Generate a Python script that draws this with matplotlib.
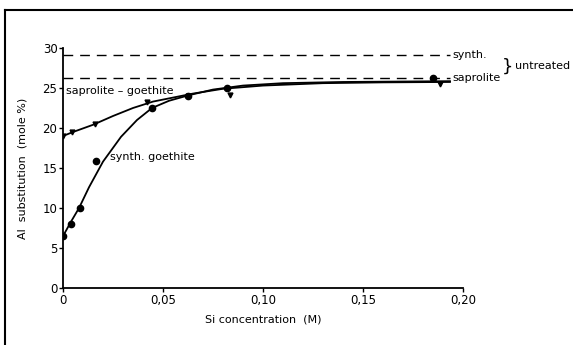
import numpy as np
import matplotlib.pyplot as plt

# measured points
sap_x = [0, 0.0045, 0.016, 0.042, 0.0625, 0.0835, 0.1885]
sap_y = [19.0, 19.5, 20.5, 23.3, 24.0, 24.1, 25.5]
syn_x = [0, 0.004, 0.0085, 0.0165, 0.0445, 0.0625, 0.082, 0.185]
syn_y = [6.5, 8.0, 10.0, 15.9, 22.5, 24.0, 25.0, 26.2]

# hand-drawn curves
sap_cx = [0, 0.005, 0.015, 0.025, 0.035, 0.045, 0.055, 0.065, 0.08, 0.10, 0.13, 0.16, 0.1935]
sap_cy = [19.0, 19.5, 20.4, 21.5, 22.5, 23.3, 23.8, 24.3, 24.9, 25.3, 25.6, 25.7, 25.75]
syn_cx = [0, 0.004, 0.008, 0.013, 0.02, 0.029, 0.037, 0.0445, 0.053, 0.063, 0.075, 0.09, 0.11, 0.14, 0.1935]
syn_cy = [6.5, 8.3, 10.0, 12.6, 15.8, 18.9, 21.0, 22.5, 23.4, 24.1, 24.8, 25.3, 25.6, 25.75, 25.85]

# untreated levels
untreated_synth = 29.1
untreated_sap = 26.25

xticks = [0, 0.05, 0.10, 0.15, 0.20]
xtick_labels = ["0", "0,05", "0,10", "0,15", "0,20"]
yticks = [0, 5, 10, 15, 20, 25, 30]

plt.rcParams['font.family'] = 'DejaVu Sans'
fs = 8
fig = plt.figure(figsize=(5.73, 3.45), dpi=100)
ax = fig.add_axes([0.110, 0.165, 0.698, 0.696])

ax.plot(sap_cx, sap_cy, color='black', lw=1.3)
ax.plot(syn_cx, syn_cy, color='black', lw=1.3)
ax.plot(sap_x, sap_y, 'v', color='black', ms=3.5)
ax.plot(syn_x, syn_y, 'o', color='black', ms=4.5)

ax.plot([0, 0.1935], [untreated_synth] * 2, color='black', lw=1.0, ls=(0, (7, 5)))
ax.plot([0, 0.1935], [untreated_sap] * 2, color='black', lw=1.0, ls=(0, (7, 5)))

mid = (untreated_synth + untreated_sap) / 2
ax.text(0.1945, untreated_synth, "synth.", fontsize=fs, va='center', ha='left')
ax.text(0.1945, untreated_sap, "saprolite", fontsize=fs, va='center', ha='left')
ax.text(0.2225, mid, "}", fontsize=13, va='center', ha='center')
ax.text(0.2262, mid + 0.1, "untreated", fontsize=fs, va='center', ha='left')

ax.text(0.0015, 24.6, "saprolite – goethite", fontsize=fs, va='center', ha='left')
ax.text(0.0235, 16.4, "synth. goethite", fontsize=fs, va='center', ha='left')

ax.set_xlim(0, 0.20)
ax.set_ylim(0, 30)
ax.set_xticks(xticks)
ax.set_xticklabels(xtick_labels)
ax.set_yticks(yticks)
ax.tick_params(direction='out', length=3, width=1, labelsize=8.5, pad=1)
ax.spines['top'].set_visible(False)
ax.spines['right'].set_visible(False)
ax.spines['left'].set_linewidth(1.3)
ax.spines['bottom'].set_linewidth(1.3)

ax.set_xlabel("Si concentration  (M)", fontsize=fs, labelpad=6)
ax.set_ylabel("Al  substitution  (mole %)", fontsize=fs, labelpad=11)

# frame lines of the original scan
fig.add_artist(plt.Line2D([0.009, 1.0], [0.971, 0.971], color='black', lw=1.5))
fig.add_artist(plt.Line2D([0.009, 0.009], [0.0, 0.971], color='black', lw=1.5))

fig.savefig("out.png", dpi=100)
